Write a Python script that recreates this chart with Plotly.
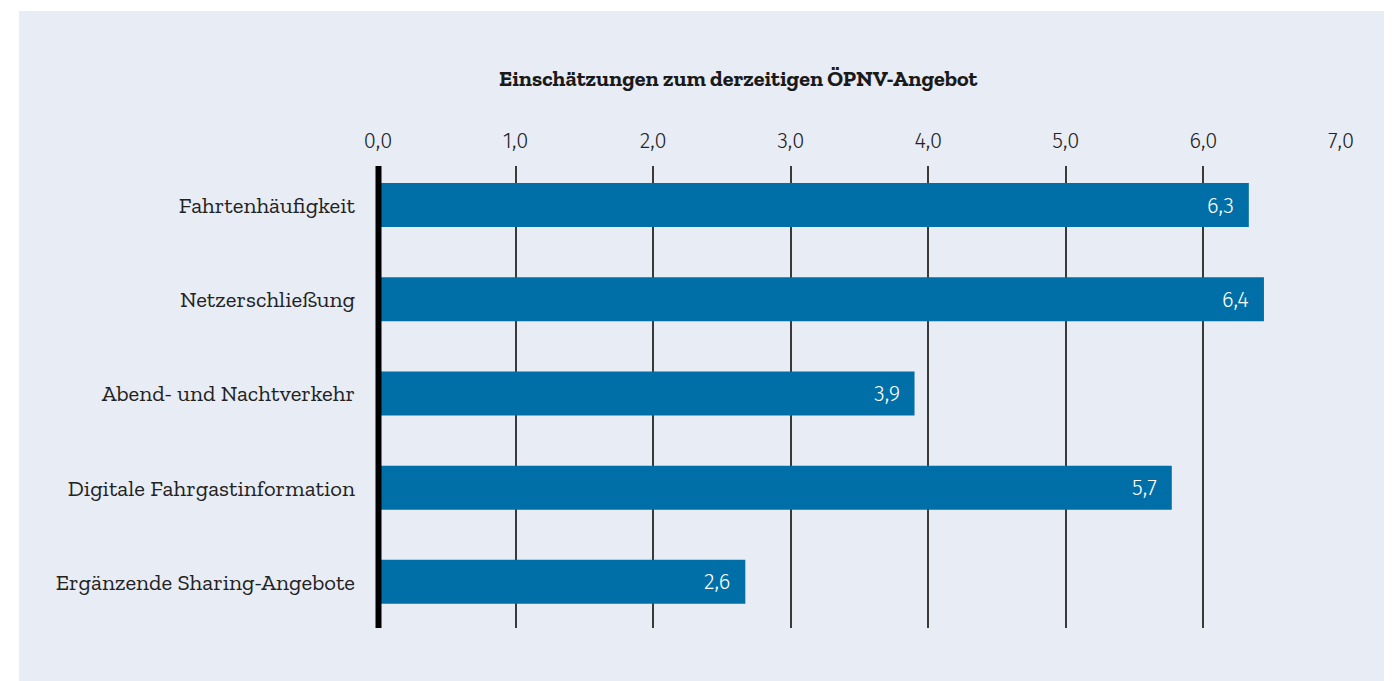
import plotly.graph_objects as go

categories = ["Fahrtenhäufigkeit", "Netzerschließung", "Abend- und Nachtverkehr",
              "Digitale Fahrgastinformation", "Ergänzende Sharing-Angebote"]
values = [6.33, 6.44, 3.90, 5.77, 2.67]
value_labels = ["6,3", "6,4", "3,9", "5,7", "2,6"]
tick_vals = [0, 1, 2, 3, 4, 5, 6, 7]
tick_text = ["0,0", "1,0", "2,0", "3,0", "4,0", "5,0", "6,0", "7,0"]
title_text = "Einschätzungen zum derzeitigen ÖPNV-Angebot"

BG = "#E8ECF5"
BAR = "#006FA7"
SANS = "Fira Sans, Noto Sans, Open Sans, sans-serif"
SERIF = "Zilla Slab, DejaVu Serif, serif"

# figure is placed at (8, 8) in the page
W, H = 1384, 673
L, R, T, B = 370, 51, 158, 53
PW = W - L - R
PH = H - T - B

fig = go.Figure()
fig.add_trace(go.Bar(
    x=values, y=categories, orientation="h",
    marker=dict(color=BAR, line=dict(width=0)),
    width=0.467, hoverinfo="skip",
))

for v, c, t in zip(values, categories, value_labels):
    fig.add_annotation(x=v, y=c, text=t, showarrow=False, xanchor="right",
                       xshift=-13, font=dict(family=SANS, size=22, color="white", weight=300))

fig.add_shape(type="rect", xref="paper", yref="paper", x0=(11 - L) / PW, x1=(W - L + 5) / PW,
              y0=(H - B - 673) / PH, y1=(H - B - 3) / PH,
              fillcolor=BG, line=dict(width=0), layer="below")
fig.add_shape(type="line", xref="paper", yref="paper", x0=0.5 / PW, x1=0.5 / PW, y0=0, y1=1,
              line=dict(color="black", width=6), layer="above")

fig.add_annotation(xref="paper", yref="paper", x=(731 - L) / PW, y=(H - B - 70) / PH,
                   text="<b>" + title_text + "</b>", showarrow=False,
                   xanchor="center", yanchor="middle",
                   font=dict(family=SERIF, size=22.2, color="#1a1a1a"))

fig.update_layout(
    width=W, height=H,
    paper_bgcolor="white", plot_bgcolor=BG,
    margin=dict(l=L, r=R, t=T, b=B),
    showlegend=False,
    xaxis=dict(range=[0, 7], side="top", tickvals=tick_vals, ticktext=tick_text,
               showgrid=True, gridcolor="#3a3a3a", gridwidth=2, zeroline=False,
               showline=False, ticks="", ticklabelstandoff=13,
               tickfont=dict(family=SANS, size=22, color="#222", weight=300)),
    yaxis=dict(range=[4.49, -0.414], showgrid=False, zeroline=False, showline=False,
               ticks="", ticklabelstandoff=22,
               tickfont=dict(family=SERIF, size=22.7, color="#222")),
)

fig.write_html("out.html")
